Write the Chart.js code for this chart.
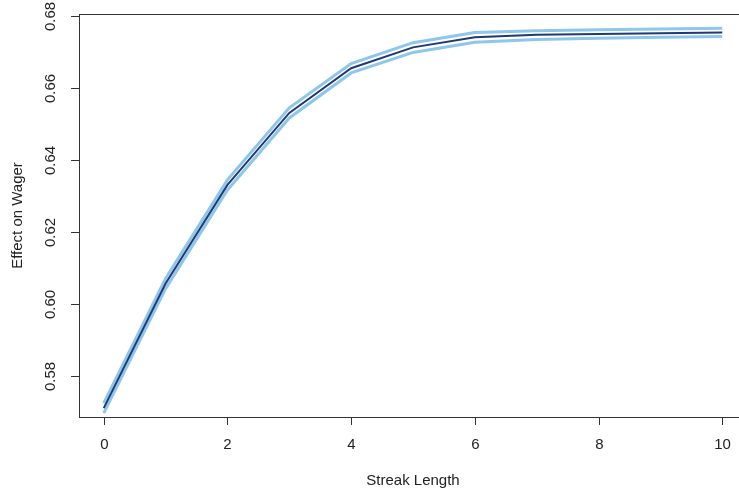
<!DOCTYPE html>
<html>
<head>
    <meta charset="utf-8" />
    <title>Effect on Wager</title>
    <script src="https://cdn.jsdelivr.net/npm/chart.js@4.4.1/dist/chart.umd.min.js"></script>
    <style>
        html, body { margin: 0; padding: 0; background: #fff; overflow: hidden; }
        #wrap { width: 748px; height: 491px; }
    </style>
</head>
<body>
    <div id="wrap">
        <canvas id="myChart" width="748" height="491"></canvas>
    </div>

    <script>
        // values
        var streak = [0, 1, 2, 3, 4, 5, 6, 7, 8, 9, 10];
        var effect = [0.5710, 0.6056, 0.6330, 0.6530, 0.6654, 0.6712, 0.6740, 0.6747, 0.6749, 0.6751, 0.6753];
        var upper  = [0.5724, 0.6070, 0.6344, 0.6544, 0.6667, 0.6725, 0.6753, 0.6758, 0.6761, 0.6763, 0.6765];
        var lower  = [0.5696, 0.6042, 0.6316, 0.6516, 0.6641, 0.6698, 0.6726, 0.6734, 0.6737, 0.6740, 0.6742];

        var xTicks = [0, 2, 4, 6, 8, 10];
        var yTicks = [0.58, 0.60, 0.62, 0.64, 0.66, 0.68];

        var xTitle = "Streak Length";
        var yTitle = "Effect on Wager";

        function toPoints(ys) {
            return streak.map(function (x, i) { return { x: x, y: ys[i] }; });
        }

        var font = '15px "Liberation Sans", Arial, sans-serif';
        var ink = '#222';

        // R-style box, ticks and labels, drawn from the chart's own scales
        var rAxes = {
            id: 'rAxes',
            afterDraw: function (chart) {
                var ctx = chart.ctx;
                var a = chart.chartArea;
                var sx = chart.scales.x;
                var sy = chart.scales.y;
                ctx.save();
                ctx.strokeStyle = '#333';
                ctx.lineWidth = 1;
                ctx.strokeRect(Math.round(a.left) + 0.5, Math.round(a.top) + 0.5,
                    Math.round(a.right - a.left), Math.round(a.bottom - a.top));

                ctx.fillStyle = ink;
                ctx.font = font;

                // x ticks
                ctx.textAlign = 'center';
                ctx.textBaseline = 'middle';
                xTicks.forEach(function (v) {
                    var px = Math.round(sx.getPixelForValue(v)) + 0.5;
                    ctx.beginPath();
                    ctx.moveTo(px, a.bottom);
                    ctx.lineTo(px, a.bottom + 8);
                    ctx.stroke();
                    ctx.fillText(String(v), px, a.bottom + 28);
                });

                // y ticks, labels turned like R's las=0
                yTicks.forEach(function (v) {
                    var py = Math.round(sy.getPixelForValue(v)) + 0.5;
                    ctx.beginPath();
                    ctx.moveTo(a.left, py);
                    ctx.lineTo(a.left - 8, py);
                    ctx.stroke();
                    ctx.save();
                    ctx.translate(a.left - 28, py);
                    ctx.rotate(-Math.PI / 2);
                    ctx.fillText(v.toFixed(2), 0, 0);
                    ctx.restore();
                });

                // axis titles
                ctx.fillText(xTitle, sx.getPixelForValue(5), a.bottom + 64);
                ctx.save();
                ctx.translate(18, (a.top + a.bottom) / 2);
                ctx.rotate(-Math.PI / 2);
                ctx.fillText(yTitle, 0, 0);
                ctx.restore();
                ctx.restore();
            }
        };

        var ctx = document.getElementById('myChart').getContext('2d');
        var chart = new Chart(ctx, {
            type: 'line',
            data: {
                datasets: [{
                    label: 'upper',
                    data: toPoints(upper),
                    borderColor: '#8ec6ec',
                    borderWidth: 3,
                    order: 2
                },
                {
                    label: 'lower',
                    data: toPoints(lower),
                    borderColor: '#8ec6ec',
                    borderWidth: 3,
                    order: 2
                },
                {
                    label: 'effect',
                    data: toPoints(effect),
                    borderColor: '#1f3a72',
                    borderWidth: 2,
                    order: 1
                }]
            },
            options: {
                responsive: false,
                animation: false,
                events: [],
                elements: {
                    point: { radius: 0 },
                    line: { tension: 0, borderCapStyle: 'butt' }
                },
                layout: { padding: { left: 79, right: 1, top: 14, bottom: 74 } },
                plugins: {
                    legend: { display: false },
                    tooltip: { enabled: false }
                },
                scales: {
                    x: { type: 'linear', min: -0.4, max: 10.4, display: false },
                    y: { type: 'linear', min: 0.56853, max: 0.68047, display: false }
                }
            },
            plugins: [rAxes]
        });
    </script>
</body>
</html>
